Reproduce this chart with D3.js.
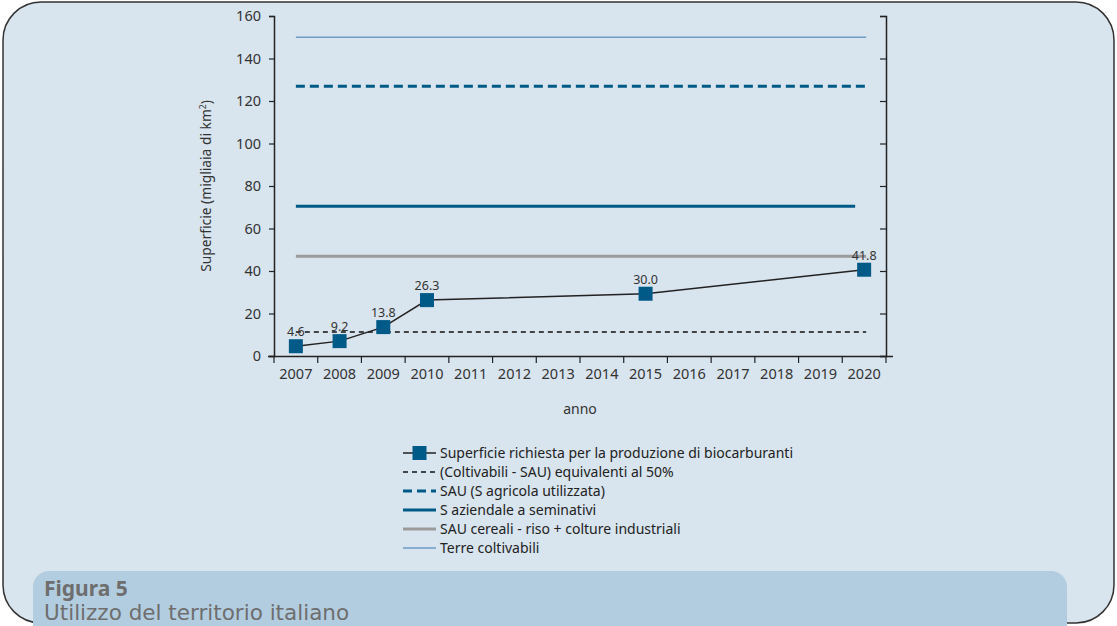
<!DOCTYPE html>
<html><head><meta charset="utf-8">
<script src="https://cdn.jsdelivr.net/npm/d3@7"></script>
<style>
body{margin:0;background:#fff;}
svg{display:block;font-family:"Noto Sans",sans-serif;}
</style></head>
<body><svg id="c" width="1117" height="626"></svg>
<script>
const years = ["2007","2008","2009","2010","2011","2012","2013","2014","2015","2016","2017","2018","2019","2020"];
const pointYears = ["2007","2008","2009","2010","2015","2020"];
const pointValues = [4.6, 7.0, 13.6, 26.3, 29.3, 40.6];
const pointLabels = ["4.6","9.2","13.8","26.3","30.0","41.8"];
const yTicks = [0,20,40,60,80,100,120,140,160];
const refNames = ["(Coltivabili - SAU) equivalenti al 50%","SAU (S agricola utilizzata)","S aziendale a seminativi","SAU cereali - riso + colture industriali","Terre coltivabili"];
const refValues = [11.3, 127, 70.5, 47, 150];
const refColors = ["#111111","#005a87","#005a87","#9b9b9b","#6e9dc6"];
const refWidths = [1.3, 3, 3, 3, 1.5];
const refDash = ["5,4","9,5",null,null,null];
const seriesName = "Superficie richiesta per la produzione di biocarburanti";
const markerColor = "#005a87";

const svg = d3.select("#c");
const W=1117,H=626;
const r=38;
const px0=3,py0=2,px1=1114,py1=623;
svg.append("path")
  .attr("d",`M${px0+r},${py0} H${px1-r} A${r},${r} 0 0 1 ${px1},${py0+r} V${py1-r} A${r},${r} 0 0 1 ${px1-r},${py1} H${px0+r} A${r},${r} 0 0 1 ${px0},${py1-r} V${py0+r} A${r},${r} 0 0 1 ${px0+r},${py0} Z`)
  .attr("fill","#d8e4ee").attr("stroke","#333").attr("stroke-width",1.5);
const cr=16, cx0=33, cx1=1067, cy0=571;
svg.append("path")
  .attr("d",`M${cx0},${H+5} V${cy0+cr} A${cr},${cr} 0 0 1 ${cx0+cr},${cy0} H${cx1-cr} A${cr},${cr} 0 0 1 ${cx1},${cy0+cr} V${H+5} Z`)
  .attr("fill","#b3cde0");
svg.append("text").attr("x",44).attr("y",596).attr("font-size",21).attr("font-weight","bold").attr("font-family","Noto Sans").attr("fill","#6e6e6e").text("Figura 5");
svg.append("text").attr("x",44).attr("y",620).attr("font-size",21.5).attr("font-family","DejaVu Sans").attr("fill","#6e6e6e").text("Utilizzo del territorio italiano");

const x = d3.scaleBand().domain(years).range([274,886]).padding(0);
const y = d3.scaleLinear().domain([0,160]).range([356,16]);
const cx = d => x(d)+x.bandwidth()/2;

const gL = svg.append("g").attr("transform","translate(274,0)")
  .call(d3.axisLeft(y).tickValues(yTicks).tickSize(5).tickPadding(8));
const gR = svg.append("g").attr("transform","translate(886,0)")
  .call(d3.axisRight(y).tickValues(yTicks).tickSize(-6).tickFormat(""));
const gB = svg.append("g").attr("transform","translate(0,356)")
  .call(d3.axisBottom(x).tickSize(0).tickPadding(13));
[gL,gR,gB].forEach(g=>{
  g.select(".domain").attr("stroke","#222").attr("stroke-width",1.5);
  g.selectAll(".tick line").attr("stroke","#222").attr("stroke-width",1.2);
  g.selectAll("text").attr("font-size",14.5).attr("fill","#333").attr("font-family","Noto Sans");
});
gB.select(".domain").attr("d","M268,0.5H893");
const bounds = years.map(d=>x(d)).concat([x(years[years.length-1])+x.bandwidth()]);
svg.append("g").selectAll("line").data(bounds).join("line")
  .attr("x1",d=>d).attr("x2",d=>d).attr("y1",356).attr("y2",363)
  .attr("stroke","#222").attr("stroke-width",1.2);

svg.append("text").attr("transform","translate(211,186) rotate(-90)").attr("text-anchor","middle")
  .attr("font-size",13.8).attr("fill","#333").html('Superficie (migliaia di km<tspan font-size="8.5" dy="-5">2</tspan><tspan dy="5">)</tspan>');
svg.append("text").attr("x",580).attr("y",414).attr("text-anchor","middle").attr("font-size",14).attr("fill","#333").text("anno");

const xStart = cx(years[0]), xEnd = cx(years[years.length-1])+2;
svg.append("g").selectAll("line").data(refValues).join("line")
  .attr("x1",xStart).attr("x2",(d,i)=> i===2 ? xEnd-11 : xEnd)
  .attr("y1",d=>y(d)).attr("y2",d=>y(d))
  .attr("stroke",(d,i)=>refColors[i]).attr("stroke-width",(d,i)=>refWidths[i])
  .attr("stroke-dasharray",(d,i)=>refDash[i]);

const pts = pointYears.map((d,i)=>[cx(d), y(pointValues[i])]);
svg.append("path").attr("d",d3.line()(pts)).attr("fill","none").attr("stroke","#222").attr("stroke-width",1.5);
const ms=14;
svg.append("g").selectAll("rect").data(pts).join("rect")
  .attr("x",d=>d[0]-ms/2).attr("y",d=>d[1]-ms/2).attr("width",ms).attr("height",ms).attr("fill",markerColor);
svg.append("g").selectAll("text").data(pts).join("text")
  .attr("x",d=>d[0]).attr("y",d=>d[1]-ms/2-3).attr("text-anchor","middle")
  .attr("font-size",12.5).attr("fill","#333").text((d,i)=>pointLabels[i]);

const lx0=403, lx1=436, ly0=453, ldy=19;
const leg = svg.append("g");
const legNames = [seriesName].concat(refNames.slice());
legNames.forEach((name,i)=>{
  const yy = ly0 + i*ldy;
  if(i===0){
    leg.append("line").attr("x1",lx0).attr("x2",lx1).attr("y1",yy).attr("y2",yy).attr("stroke","#222").attr("stroke-width",1.5);
    leg.append("rect").attr("x",(lx0+lx1)/2-7).attr("y",yy-7).attr("width",14).attr("height",14).attr("fill",markerColor);
  } else {
    const k=i-1;
    leg.append("line").attr("x1",lx0).attr("x2",lx1).attr("y1",yy).attr("y2",yy)
      .attr("stroke",refColors[k]).attr("stroke-width",refWidths[k]).attr("stroke-dasharray",refDash[k]);
  }
  leg.append("text").attr("x",lx1+4).attr("y",yy+5).attr("font-size",14).attr("fill","#222").text(name);
});
</script></body></html>
